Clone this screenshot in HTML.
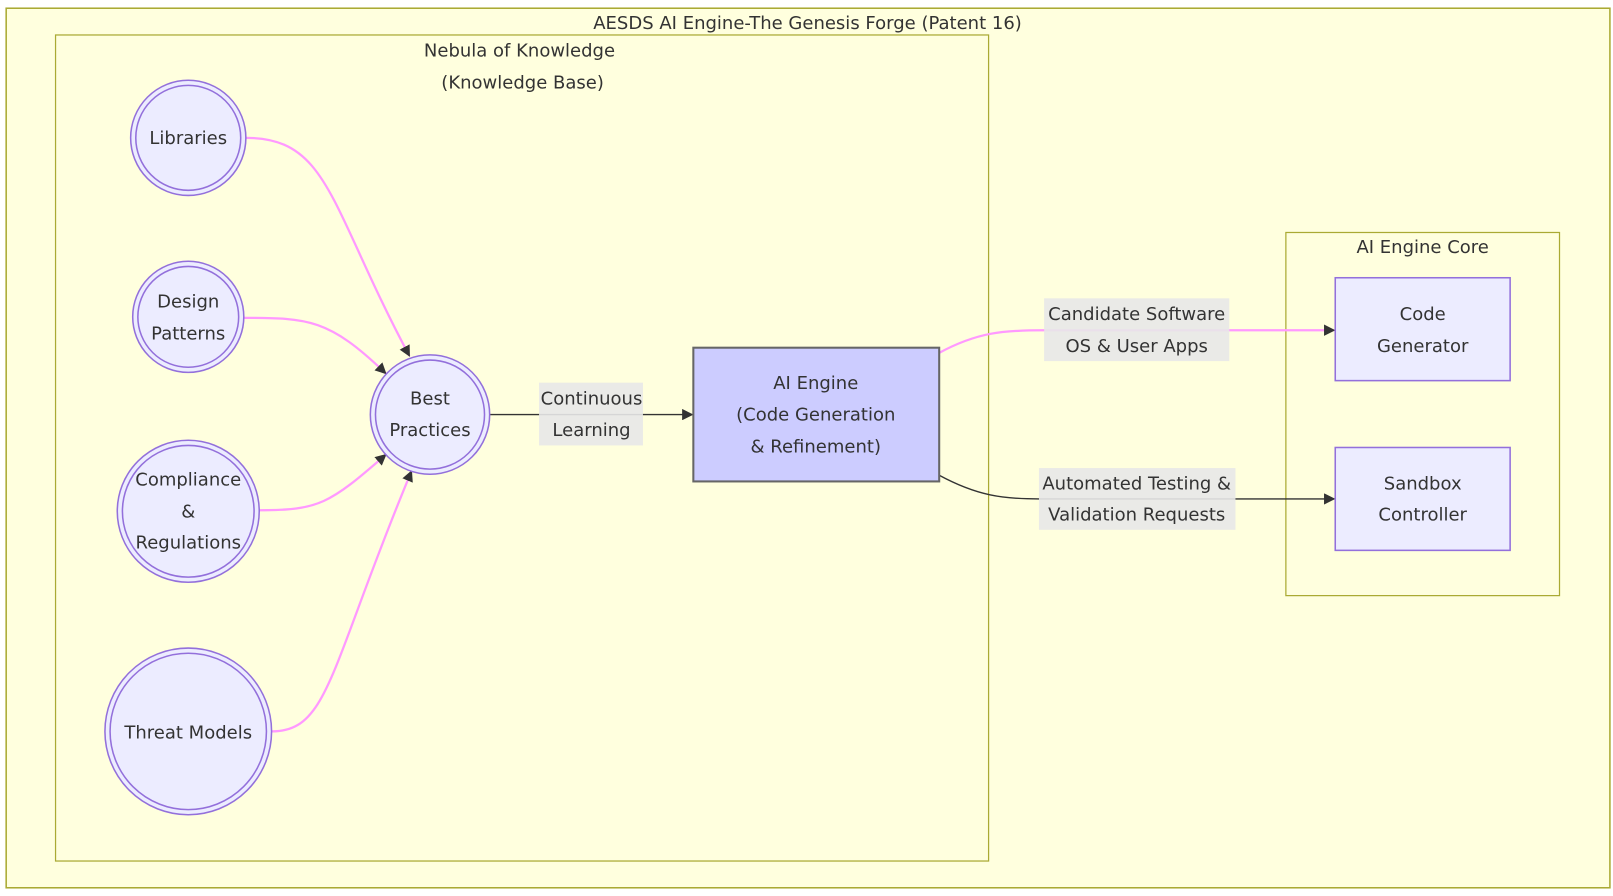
<!DOCTYPE html>
<html><head><meta charset="utf-8"><style>
html,body{margin:0;padding:0;background:#fff;}
svg{display:block;}
text{font-family:"DejaVu Sans","Liberation Sans",sans-serif;font-size:17.5px;fill:#333;text-anchor:middle;}
</style></head><body>
<svg width="1613" height="896" viewBox="0 0 1568 871" preserveAspectRatio="none" xmlns="http://www.w3.org/2000/svg">
<defs>
<marker id="a" viewBox="0 0 10 10" refX="9" refY="5" markerWidth="11" markerHeight="11" markerUnits="userSpaceOnUse" orient="auto"><path d="M0,0L10,5L0,10z" fill="#333"/></marker>
</defs>
<rect x="6" y="8" width="1559" height="855" fill="#ffffde" stroke="#aaaa33" stroke-width="1.5"/>
<text x="785" y="28">AESDS AI Engine-The Genesis Forge (Patent 16)</text>
<rect x="54" y="34" width="907" height="803" fill="#ffffde" stroke="#aaaa33" stroke-width="1.2"/>
<text x="505" y="55">Nebula of Knowledge</text>
<text x="508" y="86">(Knowledge Base)</text>
<rect x="1250" y="226" width="266" height="353" fill="#ffffde" stroke="#aaaa33" stroke-width="1.2"/>
<text x="1383" y="246">AI Engine Core</text>

<g fill="none" stroke="#ff99ff" stroke-width="2.2">
<path d="M239,134 C320,134 320,200 398,346" marker-end="url(#a)"/>
<path d="M237,309 C300,309 320,310 375,363" marker-end="url(#a)"/>
<path d="M252,496 C310,496 320,490 375,442" marker-end="url(#a)"/>
<path d="M264,711 C320,711 320,650 400,458" marker-end="url(#a)"/>
<path d="M913,343 C950,323 975,321 1015,321 L1297,321" marker-end="url(#a)"/>
</g>
<g fill="none" stroke="#333" stroke-width="1.3">
<path d="M476,403 L673,403" marker-end="url(#a)"/>
<path d="M913,462 C950,482 975,485 1010,485 L1297,485" marker-end="url(#a)"/>
</g>

<g fill="#ececff" stroke="#9370db" stroke-width="1.5">
<circle cx="183" cy="134" r="56"/><circle cx="183" cy="134" r="51"/>
<circle cx="183" cy="308" r="54"/><circle cx="183" cy="308" r="49"/>
<circle cx="183" cy="497" r="69"/><circle cx="183" cy="497" r="64"/>
<circle cx="183" cy="711" r="81"/><circle cx="183" cy="711" r="76"/>
<circle cx="418" cy="403" r="58"/><circle cx="418" cy="403" r="53"/>
<rect x="1298" y="270" width="170" height="100"/>
<rect x="1298" y="435" width="170" height="100"/>
</g>
<rect x="674" y="338" width="239" height="130" fill="#ccccff" stroke="#666" stroke-width="2"/>

<text x="183" y="140">Libraries</text>
<text x="183" y="299">Design</text><text x="183" y="330">Patterns</text>
<text x="183" y="472">Compliance</text><text x="183" y="503">&amp;</text><text x="183" y="533">Regulations</text>
<text x="183" y="718">Threat Models</text>
<text x="418" y="393">Best</text><text x="418" y="424">Practices</text>
<text x="793" y="378">AI Engine</text><text x="793" y="409">(Code Generation</text><text x="793" y="440">&amp; Refinement)</text>
<text x="1383" y="311">Code</text><text x="1383" y="342">Generator</text>
<text x="1383" y="476">Sandbox</text><text x="1383" y="506">Controller</text>

<rect x="524" y="372" width="101" height="61" fill="#e8e8e8" opacity="0.9"/>
<text x="575" y="393">Continuous</text><text x="575" y="424">Learning</text>
<rect x="1015" y="290" width="180" height="61" fill="#e8e8e8" opacity="0.9"/>
<text x="1105" y="311">Candidate Software</text><text x="1105" y="342">OS &amp; User Apps</text>
<rect x="1010" y="455" width="191" height="60" fill="#e8e8e8" opacity="0.9"/>
<text x="1105" y="476">Automated Testing &amp;</text><text x="1105" y="506">Validation Requests</text>
</svg>
</body></html>
